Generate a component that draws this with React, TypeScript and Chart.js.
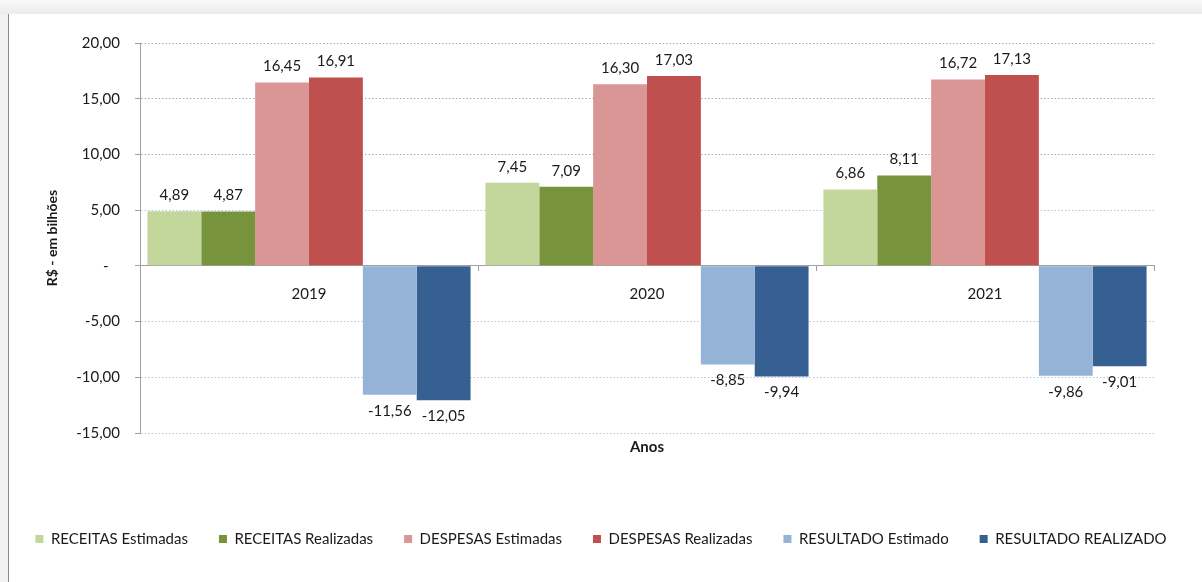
import React, { useEffect, useRef } from 'react';
import { Chart, registerables } from 'chart.js';

Chart.register(...registerables);

// ---- data ----
const categories = ['2019', '2020', '2021'];
const seriesLabels = [
  'RECEITAS Estimadas',
  'RECEITAS Realizadas',
  'DESPESAS Estimadas',
  'DESPESAS Realizadas',
  'RESULTADO Estimado',
  'RESULTADO REALIZADO',
];
const receitasEstimadas = [4.89, 7.45, 6.86];
const receitasRealizadas = [4.87, 7.09, 8.11];
const despesasEstimadas = [16.45, 16.3, 16.72];
const despesasRealizadas = [16.91, 17.03, 17.13];
const resultadoEstimado = [-11.56, -8.85, -9.86];
const resultadoRealizado = [-12.05, -9.94, -9.01];
const seriesColors = ['#c3d69b', '#77933c', '#d99694', '#c0504d', '#95b3d7', '#366092'];
const yMin = -15;
const yMax = 20;
const yStep = 5;
const yAxisTitle = 'R$ - em bilhões';
const xAxisTitle = 'Anos';

const seriesValues = [
  receitasEstimadas,
  receitasRealizadas,
  despesasEstimadas,
  despesasRealizadas,
  resultadoEstimado,
  resultadoRealizado,
];

const fmt = (v: number) => v.toFixed(2).replace('.', ',');
const TEXT = '#1a1a1a';
const FONT = 'Lato';

const framePlugin = {
  id: 'frame',
  beforeDraw(chart: any) {
    const { ctx, width, height } = chart;
    ctx.save();
    ctx.fillStyle = '#ffffff';
    ctx.fillRect(0, 0, width, height);
    const g = ctx.createLinearGradient(0, 0, 0, 14);
    g.addColorStop(0, '#f8f8f8');
    g.addColorStop(1, '#ececec');
    ctx.fillStyle = g;
    ctx.fillRect(0, 0, width, 14);
    ctx.fillStyle = '#f2f2f2';
    ctx.fillRect(0, 14, 8, height - 14);
    ctx.fillStyle = '#8a8a8a';
    ctx.fillRect(8, 14, 1, height - 14);
    ctx.restore();
  },
};

const valueLabelPlugin = {
  id: 'valueLabels',
  afterDatasetsDraw(chart: any) {
    const { ctx } = chart;
    ctx.save();
    ctx.font = `15px ${FONT}`;
    ctx.fillStyle = TEXT;
    ctx.textAlign = 'center';
    ctx.textBaseline = 'middle';
    chart.data.datasets.forEach((ds: any, di: number) => {
      const meta = chart.getDatasetMeta(di);
      meta.data.forEach((el: any, i: number) => {
        const v = ds.data[i] as number;
        const y = v >= 0 ? el.y - 16 : el.y + 16;
        ctx.fillText(fmt(v), el.x, y);
      });
    });
    ctx.restore();
  },
};

export default function App() {
  const ref = useRef<HTMLCanvasElement>(null);

  useEffect(() => {
    document.body.style.margin = '0';
    Chart.defaults.font.family = FONT;
    Chart.defaults.color = TEXT;
    const chart = new Chart(ref.current as HTMLCanvasElement, {
      type: 'bar',
      data: {
        labels: categories,
        datasets: seriesLabels.map((label, i) => ({
          label,
          data: seriesValues[i],
          backgroundColor: seriesColors[i],
          borderWidth: 0,
          xAxisID: 'x',
          yAxisID: 'y',
          categoryPercentage: 0.956,
          barPercentage: 1,
        })),
      },
      options: {
        animation: false,
        responsive: false,
        layout: { padding: { top: 43, bottom: 25.5, left: 0, right: 0 } },
        plugins: {
          legend: {
            position: 'bottom',
            labels: {
              boxWidth: 8,
              boxHeight: 8,
              padding: 31,
              font: { size: 15 },
              color: TEXT,
            },
          },
          tooltip: { enabled: false },
        },
        scales: {
          x: {
            type: 'category',
            position: { y: 0 } as any,
            offset: true,
            grid: {
              display: true,
              drawOnChartArea: false,
              drawTicks: true,
              tickLength: 5,
              color: '#a0a0a0',
            },
            border: { display: true, color: '#a0a0a0', width: 1 },
            ticks: { font: { size: 15 }, color: TEXT, padding: 14 },
          },
          x2: {
            type: 'category',
            position: 'bottom',
            display: true,
            grid: { display: false, drawTicks: false, tickLength: 0 },
            border: { display: false },
            ticks: { display: false },
            title: {
              display: true,
              text: xAxisTitle,
              font: { size: 15, weight: 'bold' },
              color: TEXT,
              padding: { top: 5, bottom: 44.5 },
            },
          },
          y: {
            type: 'linear',
            position: 'left',
            min: yMin,
            max: yMax,
            afterFit: (s: any) => {
              s.width = 140;
            },
            ticks: {
              stepSize: yStep,
              padding: 15,
              font: { size: 15 },
              color: TEXT,
              callback: (v: any) => (Number(v) === 0 ? '-   ' : fmt(Number(v))),
            },
            grid: {
              color: (c: any) => (c.tick && c.tick.value >= 10 ? '#a8a8a8' : '#b9c4e2'),
              lineWidth: 1,
              drawTicks: true,
              tickLength: 5,
              tickColor: '#a0a0a0',
            },
            border: { display: true, color: '#a0a0a0', width: 1, dash: [1.5, 2] },
            title: {
              display: true,
              text: yAxisTitle,
              font: { size: 14, weight: 'bold' },
              color: TEXT,
              padding: { top: 44, bottom: 0 },
            },
          },
          y2: {
            type: 'linear',
            position: 'right',
            display: true,
            grid: { display: false, drawTicks: false },
            border: { display: false },
            ticks: { display: false },
            afterFit: (s: any) => {
              s.width = 48;
            },
          },
        },
      },
      plugins: [framePlugin, valueLabelPlugin],
    } as any);
    return () => chart.destroy();
  }, []);

  return (
    <div style={{ position: 'fixed', left: 0, top: 0, width: 1202, height: 582 }}>
      <canvas ref={ref} width={1202} height={582} style={{ display: 'block' }} />
    </div>
  );
}
